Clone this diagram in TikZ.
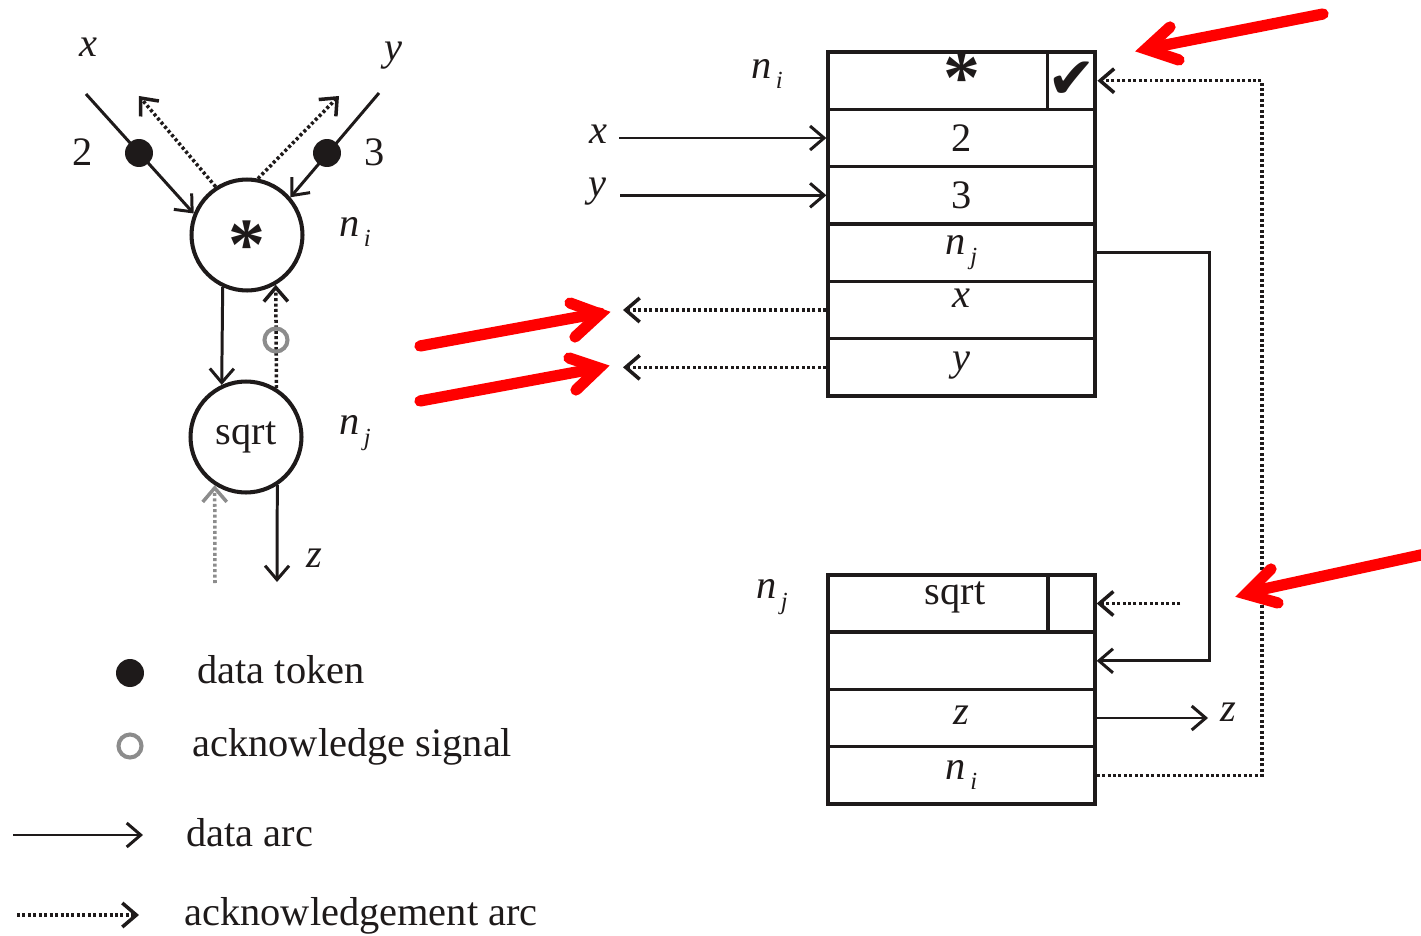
\documentclass[tikz,border=0pt]{standalone}
\usepackage{fontspec}
\setmainfont{Liberation Serif}
\newfontfamily\symfont{DejaVu Sans}
\usetikzlibrary{arrows.meta}
\newcommand{\nsub}[1]{\textit{n}\kern2.5pt\raisebox{-0.55ex}{\fontsize{14}{14}\selectfont\textit{#1}}}
\newcommand{\bigast}{\smash{\fontsize{42}{42}\selectfont\bfseries *}}
\definecolor{ink}{RGB}{30,26,26}
\definecolor{ackgray}{RGB}{140,140,140}
\begin{document}
\begin{tikzpicture}[x=0.02cm,y=-0.02cm,
  every node/.style={font=\fontsize{23}{27}\selectfont, inner sep=0pt, text=ink},
  barb/.style={-{Straight Barb[length=2.8mm,width=4.8mm]}},
  dat/.style={draw=ink, line width=1.7pt, barb},
  ack/.style={draw=ink, line width=2pt, dash pattern=on 1.7pt off 1.4pt, barb},
  circ/.style={circle, draw=ink, line width=2.3pt, minimum size=2.22cm},
  row/.style={draw=ink, line width=1.9pt, minimum width=5.34cm, minimum height=1.147cm},
  ckcell/.style={draw=ink, line width=1.9pt, minimum width=0.94cm, minimum height=1.147cm},
  token/.style={circle, fill=ink, minimum size=0.56cm},
  acktok/.style={circle, draw=ackgray, line width=2.3pt, minimum size=0.46cm},
  redarr/.style={draw=red, line width=6.4pt, line cap=round, line join=miter}
]
\useasboundingbox (0,0) rectangle (1421,936);

% ---------- left dataflow graph ----------
\node[circ] (ci) at (247,235) {};
\node (ast) at (247,269) {\bigast};
\node[circ] (cj) at (246,437) {sqrt};

\node (lx) at (88,47) {\textit{x}};
\node (ly) at (393,56) {\textit{y}};
\node (l2) at (83,152) {2};
\node (l3) at (375,152) {3};
\node (lni) at (355,232) {\nsub{i}};
\node (lnj) at (355,433) {\nsub{j}};
\node (lz) at (314,558) {\textit{z}};

\coordinate (xs) at (86,94);
\coordinate (ys) at (379,93);
\draw[dat] (xs) -- (ci.158);
\draw[dat] (ys) -- (ci.41);
\node[token] (tx) at (139,153) {};
\node[token] (ty) at (327,153) {};

\coordinate (ax) at (139,96);
\coordinate (ay) at (339,96);
\draw[ack] (ci.123) -- (ax);
\draw[ack] (ci.79) -- (ay);

\draw[dat] (ci.245) -- (cj.115);
\draw[ack] (cj.58) -- (ci.300);
\node[acktok] (at) at (276,340) {};

\coordinate (gs) at (215,583);
\draw[ack, draw=ackgray] (gs) -- (cj.237);
\coordinate (zs) at (277,582);
\draw[dat] (cj.303) -- (zs);

% ---------- legend ----------
\node[token] (lgt) at (130,673) {};
\node[anchor=base west] (lgtt) at (197,683) {data token};
\node[acktok] (lga) at (130,746) {};
\node[anchor=base west] (lgat) at (192,756) {acknowledge signal};
\coordinate (lds) at (13,835);
\coordinate (lde) at (143,835);
\draw[dat] (lds) -- (lde);
\node[anchor=base west] (lgdt) at (186,846) {data arc};
\coordinate (las) at (17,915);
\coordinate (lae) at (139,915);
\draw[ack] (las) -- (lae);
\node[anchor=base west] (lgat2) at (184,925) {acknowledgement arc};

% ---------- table n_i ----------
\node[row] (r1) at (961.5,80.7) {};
\node (r1t) at (962,103) {\bigast};
\node[ckcell] (ck1) at (1071.5,80.7) {\symfont\fontsize{33}{33}\selectfont ✔};
\node[row] (r2) at (961.5,138) {2};
\node[row] (r3) at (961.5,195.3) {3};
\node[row] (r4) at (961.5,252.7) {\raisebox{0.5ex}{\nsub{j}}};
\node[row] (r5) at (961.5,310) {\raisebox{1.3ex}{\textit{x}}};
\node[row] (r6) at (961.5,367.3) {\raisebox{0.7ex}{\textit{y}}};

\node (tni) at (767,74) {\nsub{i}};
\node (tx1) at (598,134) {\textit{x}};
\node (ty1) at (597,192) {\textit{y}};
\coordinate (xin) at (619,138);
\coordinate (yin) at (620,195.3);
\draw[dat] (xin) -- (r2.west);
\draw[dat] (yin) -- (r3.west);
\coordinate (xo) at (623,310);
\coordinate (yo) at (623,367.3);
\draw[ack] (r5.west) -- (xo);
\draw[ack] (r6.west) -- (yo);

% ---------- table n_j ----------
\node[row] (s1) at (961.5,603.5) {};
\node (s1t) at (955,597) {sqrt};
\node[ckcell] (ck2) at (1071.5,603.5) {};
\node[row] (s2) at (961.5,660.8) {};
\node[row] (s3) at (961.5,718) {\raisebox{0.3ex}{\textit{z}}};
\node[row] (s4) at (961.5,775.3) {\raisebox{0.6ex}{\nsub{i}}};

\node (tnj) at (772,597) {\nsub{j}};
\node (tz) at (1228,712) {\textit{z}};

\draw[dat] (r4.east) -| (1209,660.8) -- (s2.east);
\coordinate (zo) at (1208,718);
\draw[dat] (s3.east) -- (zo);
\coordinate (aq) at (1180,603.5);
\draw[ack] (aq) -- (ck2.east);
\draw[ack] (s4.east) -| (1262,80.7) -- (ck1.east);

% ---------- red highlight arrows ----------
\draw[redarr] (420,346) -- (600,313);
\draw[redarr] (570,303) -- (600,314) -- (575,337);
\draw[redarr] (420,401) -- (598,368);
\draw[redarr] (569,358) -- (599,368) -- (576,390);
\draw[redarr] (1323,14) -- (1150,48);
\draw[redarr] (1170,27) -- (1146,49) -- (1179,60);
\draw[redarr] (1430,553) -- (1250,592);
\draw[redarr] (1271,569) -- (1246,594) -- (1278,603);
\end{tikzpicture}
\end{document}
